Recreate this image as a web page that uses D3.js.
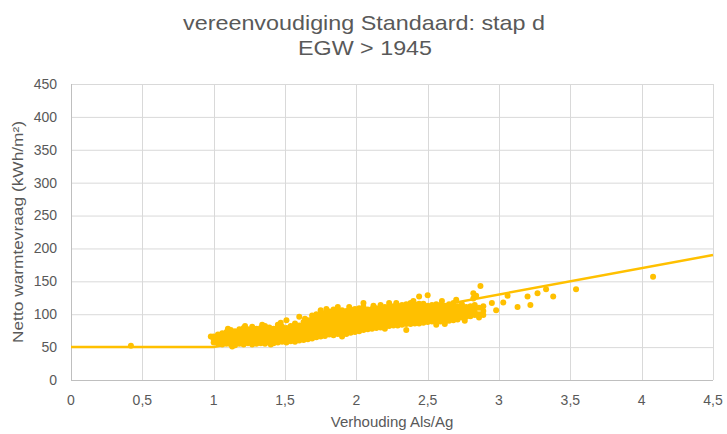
<!DOCTYPE html>
<html><head><meta charset="utf-8">
<script src="https://cdn.jsdelivr.net/npm/d3@7"></script>
<style>body{margin:0;background:#fff}svg{display:block}</style>
</head><body>
<svg id="c" width="727" height="434"></svg>
<script>
const titleLines = ["vereenvoudiging Standaard: stap d", "EGW > 1945"];
const xLabel = "Verhouding  Als/Ag";
const yLabel = "Netto  warmtevraag  (kWh/m²)";
const xTicks = [0,0.5,1,1.5,2,2.5,3,3.5,4,4.5];
const yTicks = [0,50,100,150,200,250,300,350,400,450];
// trend line (x, y)
const lineX = [0, 1, 4.5];
const lineY = [50, 50, 190];
// scatter columns: [x, [y values]]
const cloud = [
[0.98,[66]],
[1.00,[57,62,66]],[1.03,[55,60,64,69]],[1.06,[54,58,63,67,71]],[1.09,[55,59,64,68,73]],
[1.12,[54,58,62,67,71,76]],[1.15,[53,57,62,66,70,74]],[1.18,[55,59,63,68,72,77]],
[1.21,[54,58,63,67,71,75,79]],[1.24,[56,60,64,69,73,77]],[1.27,[54,59,63,67,72,76,81]],
[1.30,[55,60,64,68,73,78]],[1.33,[56,60,65,69,74,79]],[1.36,[55,59,64,68,72,77,82]],
[1.39,[57,61,66,70,75,80]],[1.42,[56,60,65,69,74,78]],[1.45,[57,62,66,71,75,80,84]],
[1.48,[58,62,67,71,76,81]],[1.51,[57,61,66,70,75,79,91]],[1.54,[59,63,68,72,77,82]],
[1.57,[58,63,67,72,76,81,86]],[1.60,[60,64,69,73,78,83,96]],[1.63,[61,65,70,74,79,84,88]],
[1.66,[62,67,71,76,81,86,91]],[1.69,[63,68,73,78,83,88,93,98]],[1.72,[65,70,75,80,85,90,95,100]],
[1.75,[66,71,76,81,86,91,96,101,106]],[1.78,[67,72,77,82,87,92,97,102]],[1.81,[69,74,79,84,89,94,99,104]],
[1.84,[68,73,78,83,88,93,98,103,107]],[1.87,[70,75,80,85,90,95,100,105,111]],[1.90,[71,76,81,86,91,96,101,106]],
[1.93,[70,75,80,85,90,95,100,105]],[1.96,[72,77,82,87,92,97,102,107]],[1.99,[73,78,83,88,93,98,103,108]],
[2.02,[74,79,84,89,94,99,104,109]],[2.05,[76,81,86,91,96,101,106,111,117]],[2.08,[77,82,87,92,97,102,107]],
[2.11,[78,83,88,93,98,103,108]],[2.14,[79,84,89,94,99,104,109]],[2.17,[80,85,90,95,100,105,110,114]],
[2.20,[81,86,91,96,101,106,111]],[2.23,[82,87,92,97,102,107,112,117]],[2.26,[83,88,93,98,103,108,112]],
[2.29,[83,88,93,98,103,108,113]],[2.32,[84,89,94,99,104,109,114]],[2.35,[76,85,90,95,100,105,110,115]],
[2.38,[85,90,95,100,105,110,117]],[2.41,[86,91,96,101,106,111,115]],[2.44,[86,91,96,101,106,111,116,127]],
[2.47,[87,92,97,102,107,112,116]],[2.50,[88,93,98,103,108,113,129]],[2.53,[89,94,99,104,109,114]],
[2.56,[84,90,95,100,105,110,115]],[2.59,[89,94,99,104,109,114]],[2.62,[88,93,98,103,108,113]],
[2.65,[90,95,100,105,110,115]],[2.68,[91,96,101,106,111,117]],[2.71,[92,97,102,107,112]],
[2.74,[95,100,105,110,115]],[2.77,[96,101,106,111]],[2.80,[97,102,107,112]],[2.82,[132,124]],
[2.83,[99,104,109,114]],[2.86,[95,100,110]],[2.87,[143]],[2.89,[99,105,112]]
];
// ragged edge points
const edgeX = [1.10,1.22,1.34,1.47,1.64,1.79,1.95,2.12,2.28,2.40,2.60,2.70,1.90,2.20,2.62,2.76,1.13,1.40,2.84];
const edgeY = [78,82,84,87,93,108,111,113,117,120,120,122,66,78,85,90,51,54,128];
const outliersX = [0.42,2.95,2.98,3.03,3.06,3.13,3.20,3.22,3.27,3.33,3.38,3.54,4.08];
const outliersY = [52,117,106,118,128,111,127,114,132,138,127,138,157];

const svg = d3.select("#c");
const L=71, R=713, T=84, B=380;
const x = d3.scaleLinear().domain([0,4.5]).range([L,R]);
const y = d3.scaleLinear().domain([0,450]).range([B,T]);
const gold = "#FFC000", grid = "#d9d9d9", txt = "#595959";
const font = "'Liberation Sans Narrow','Arial Narrow','Liberation Sans',Arial,sans-serif";

// grid
svg.append("g").selectAll("line").data(yTicks).join("line")
  .attr("x1",L).attr("x2",R).attr("y1",d=>y(d)+0.5).attr("y2",d=>y(d)+0.5)
  .attr("stroke",grid).attr("stroke-width",1);
svg.append("g").selectAll("line").data(xTicks).join("line")
  .attr("y1",T).attr("y2",B).attr("x1",d=>Math.round(x(d))+0.5).attr("x2",d=>Math.round(x(d))+0.5)
  .attr("stroke",grid).attr("stroke-width",1);
// axes lines
svg.append("line").attr("x1",L+0.5).attr("x2",L+0.5).attr("y1",T).attr("y2",B).attr("stroke","#bfbfbf");
svg.append("line").attr("x1",L).attr("x2",R).attr("y1",B+0.5).attr("y2",B+0.5).attr("stroke","#bfbfbf");

// tick labels
const fmt = d => String(d).replace(".",",");
svg.append("g").selectAll("text").data(yTicks).join("text")
  .attr("x",57).attr("y",d=>y(d)).attr("dy","0.35em").attr("text-anchor","end")
  .attr("font-family",font).attr("font-size",14).attr("fill",txt).text(d=>d);
svg.append("g").selectAll("text").data(xTicks).join("text")
  .attr("x",d=>x(d)).attr("y",400).attr("dy","0.35em").attr("text-anchor","middle")
  .attr("font-family",font).attr("font-size",14).attr("fill",txt).text(fmt);

// axis titles
svg.append("text").attr("x",392).attr("y",427).attr("text-anchor","middle")
  .attr("font-family",font).attr("font-size",15).attr("fill",txt).text(xLabel);
svg.append("text").attr("transform","translate(23,232) rotate(-90)").attr("text-anchor","middle")
  .attr("font-family",font).attr("font-size",15).attr("fill",txt)
  .attr("textLength",222).attr("lengthAdjust","spacingAndGlyphs").text(yLabel);

// title
svg.append("text").attr("x",364).attr("y",30).attr("text-anchor","middle")
  .attr("font-family",font).attr("font-size",21).attr("fill",txt)
  .attr("textLength",362).attr("lengthAdjust","spacingAndGlyphs").text(titleLines[0]);
svg.append("text").attr("x",365).attr("y",55).attr("text-anchor","middle")
  .attr("font-family",font).attr("font-size",21).attr("fill",txt)
  .attr("textLength",134).attr("lengthAdjust","spacingAndGlyphs").text(titleLines[1]);

// points
const pts = [];
cloud.forEach(([cx,ys])=>ys.forEach(v=>pts.push([cx,v])));
edgeX.forEach((v,i)=>pts.push([v,edgeY[i]]));
outliersX.forEach((v,i)=>pts.push([v,outliersY[i]]));
svg.append("g").selectAll("circle").data(pts).join("circle")
  .attr("cx",d=>x(d[0])).attr("cy",d=>y(d[1])).attr("r",3).attr("fill",gold);

// trend line
svg.append("path").datum(lineX.map((v,i)=>[v,lineY[i]]))
  .attr("d",d3.line().x(d=>x(d[0])).y(d=>y(d[1])))
  .attr("fill","none").attr("stroke",gold).attr("stroke-width",2.5);
</script>
</body></html>
